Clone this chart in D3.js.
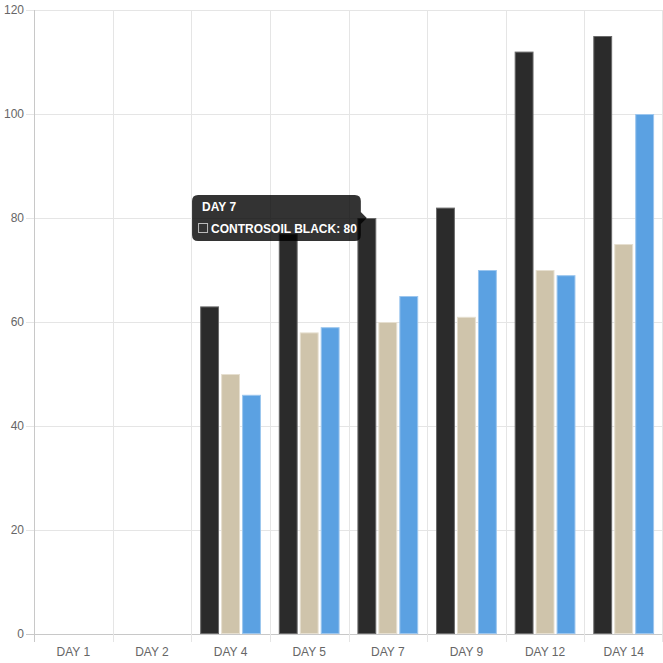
<!DOCTYPE html>
<html>
<head>
<meta charset="utf-8">
<script src="https://cdn.jsdelivr.net/npm/d3@7/dist/d3.min.js"></script>
<style>
  html, body { margin: 0; padding: 0; background: #fff; }
  svg { display: block; font-family: "Liberation Sans", Arial, Helvetica, sans-serif; }
</style>
</head>
<body>
<svg id="chart" width="663" height="663"></svg>
<script>
const categories = ["DAY 1", "DAY 2", "DAY 4", "DAY 5", "DAY 7", "DAY 9", "DAY 12", "DAY 14"];
const seriesNames = ["CONTROSOIL BLACK", "CONTROSOIL BEIGE", "CONTROSOIL BLUE"];
const seriesBlack = [null, null, 63, 77, 80, 82, 112, 115];
const seriesBeige = [null, null, 50, 58, 60, 61, 70, 75];
const seriesBlue  = [null, null, 46, 59, 65, 70, 69, 100];
const seriesColors = ["#2b2b2b", "#cfc4ab", "#5ba1e2"];
const seriesStrokes = ["#6a6a6a", "#e6dfd0", "#9cc6ee"];
const yTicks = [0, 20, 40, 60, 80, 100, 120];
const tooltipCategory = "DAY 7";
const tooltipSeries = 0;

const allSeries = [seriesBlack, seriesBeige, seriesBlue];

const svg = d3.select("#chart");
const margin = { left: 34, right: 0, top: 10, bottom: 29 };
const W = 663, H = 663;

const x = d3.scaleBand().domain(categories).range([margin.left, W - margin.right]).paddingInner(0).paddingOuter(0);
const y = d3.scaleLinear().domain([0, 120]).range([H - margin.bottom, margin.top]);

const inner = d3.scaleBand().domain(d3.range(allSeries.length))
  .range([x.bandwidth() * 0.1, x.bandwidth() * 0.9]).paddingInner(0.1).paddingOuter(0.05);

// gridlines - horizontal
const gGrid = svg.append("g");
gGrid.selectAll("line.h").data(yTicks).join("line")
  .attr("x1", margin.left - 8).attr("x2", W)
  .attr("y1", d => Math.round(y(d)) + 0.5).attr("y2", d => Math.round(y(d)) + 0.5)
  .attr("stroke", d => d === 0 ? "#c8c8c8" : "#e5e5e5").attr("stroke-width", 1);

// gridlines - vertical (category boundaries)
const bounds = categories.map(c => x(c)).concat([W - 1]);
gGrid.selectAll("line.v").data(bounds).join("line")
  .attr("x1", d => Math.round(d) + 0.5).attr("x2", d => Math.round(d) + 0.5)
  .attr("y1", margin.top).attr("y2", y(0) + 8)
  .attr("stroke", (d, i) => i === 0 ? "#c8c8c8" : "#e5e5e5").attr("stroke-width", 1);

// y tick labels
svg.append("g").selectAll("text").data(yTicks).join("text")
  .attr("x", margin.left - 10).attr("y", d => y(d))
  .attr("text-anchor", "end").attr("dominant-baseline", "central")
  .attr("font-size", 12).attr("fill", "#666")
  .text(d => d);

// x tick labels
svg.append("g").selectAll("text").data(categories).join("text")
  .attr("x", d => x(d) + x.bandwidth() / 2).attr("y", y(0) + 18)
  .attr("text-anchor", "middle").attr("dominant-baseline", "central")
  .attr("font-size", 12).attr("fill", "#666")
  .text(d => d);

// bars
allSeries.forEach((vals, si) => {
  const data = categories.map((c, i) => ({ c, v: vals[i] })).filter(d => d.v != null);
  svg.append("g").selectAll("rect").data(data).join("rect")
    .attr("x", d => x(d.c) + inner(si) + 0.5)
    .attr("y", d => y(d.v) + 0.5)
    .attr("width", inner.bandwidth() - 1)
    .attr("height", d => y(0) - y(d.v) - 1)
    .attr("fill", seriesColors[si])
    .attr("stroke", seriesStrokes[si]).attr("stroke-width", 1);
});

// tooltip
const ti = categories.indexOf(tooltipCategory);
const tv = allSeries[tooltipSeries][ti];
const tipX = x(tooltipCategory) + inner(tooltipSeries) + inner.bandwidth() / 2;
const tipY = y(tv);
const tg = svg.append("g");
const boxH = 46;
const caret = 6;
const boxRight = tipX - caret;
const boxTop = tipY - boxH / 2;

const bodyText = tg.append("text")
  .attr("font-size", 12).attr("font-weight", "bold").attr("fill", "#fff")
  .text(seriesNames[tooltipSeries] + ": " + tv);
const tw = bodyText.node().getComputedTextLength();
const boxW = 19 + tw + 4;
const boxLeft = boxRight - boxW;

const r = 6;
const path = d3.path();
path.moveTo(boxLeft + r, boxTop);
path.lineTo(boxRight - r, boxTop);
path.quadraticCurveTo(boxRight, boxTop, boxRight, boxTop + r);
path.lineTo(boxRight, tipY - caret);
path.lineTo(tipX, tipY);
path.lineTo(boxRight, tipY + caret);
path.lineTo(boxRight, boxTop + boxH - r);
path.quadraticCurveTo(boxRight, boxTop + boxH, boxRight - r, boxTop + boxH);
path.lineTo(boxLeft + r, boxTop + boxH);
path.quadraticCurveTo(boxLeft, boxTop + boxH, boxLeft, boxTop + boxH - r);
path.lineTo(boxLeft, boxTop + r);
path.quadraticCurveTo(boxLeft, boxTop, boxLeft + r, boxTop);
path.closePath();
tg.insert("path", "text").attr("d", path.toString()).attr("fill", "rgba(0,0,0,0.8)");

tg.append("text")
  .attr("x", boxLeft + 10).attr("y", boxTop + 16)
  .attr("font-size", 12).attr("font-weight", "bold").attr("fill", "#fff")
  .text(tooltipCategory);

tg.append("rect")
  .attr("x", boxLeft + 6.5).attr("y", boxTop + 28.5).attr("width", 9).attr("height", 9)
  .attr("fill", "none").attr("stroke", "#bbb").attr("stroke-width", 1);

bodyText.attr("x", boxLeft + 19).attr("y", boxTop + 38);
</script>
</body>
</html>
